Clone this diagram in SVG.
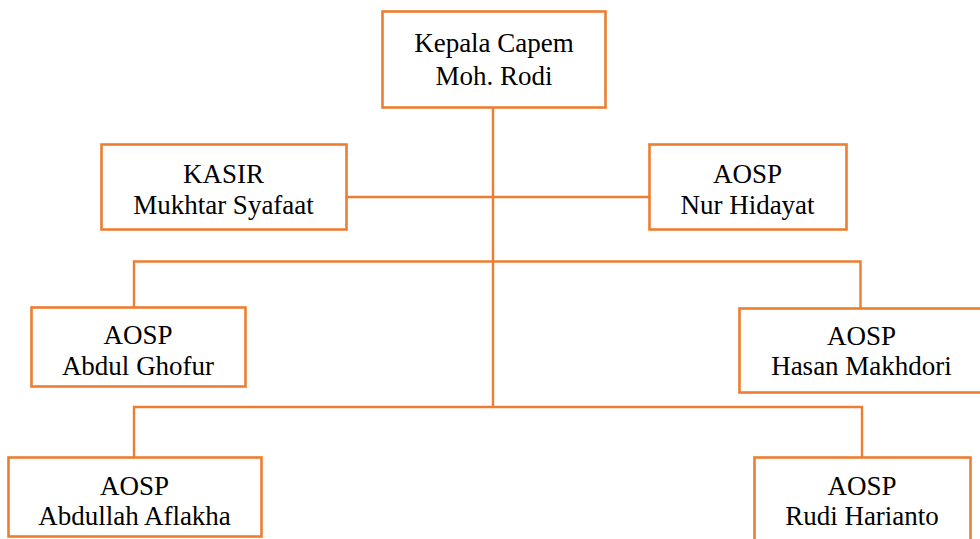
<svg xmlns="http://www.w3.org/2000/svg" width="980" height="539" viewBox="0 0 980 539">
<style>
.box{fill:#fff;stroke:#ED7D31;stroke-width:2.6}
.ln{fill:none;stroke:#ED7D31;stroke-width:2.4}
.t{font-family:'Liberation Serif','DejaVu Serif',serif;font-size:27px;fill:#000;text-anchor:middle}
</style>
<rect width="980" height="539" fill="#fff"/>
<g id="connectors">
<path class="ln" d="M493 107V407"/>
<path class="ln" d="M346 197H649"/>
<path class="ln" d="M134 307V261.5H860.5V308"/>
<path class="ln" d="M134 457V407H862V457"/>
</g>
<g id="kepala">
<rect class="box" x="382.5" y="11.5" width="223" height="96"/>
<text class="t" font-family="Liberation Serif" x="494" y="52">Kepala Capem</text>
<text class="t" font-family="Liberation Serif" x="494" y="85">Moh. Rodi</text>
</g>
<g id="kasir">
<rect class="box" x="101.5" y="144.5" width="245" height="85"/>
<text class="t" font-family="Liberation Serif" x="223.5" y="183">KASIR</text>
<text class="t" font-family="Liberation Serif" x="223.5" y="214">Mukhtar Syafaat</text>
</g>
<g id="nur">
<rect class="box" x="649.5" y="144.5" width="197" height="85"/>
<text class="t" font-family="Liberation Serif" x="747.5" y="183">AOSP</text>
<text class="t" font-family="Liberation Serif" x="747.5" y="214">Nur Hidayat</text>
</g>
<g id="abdul">
<rect class="box" x="31.5" y="307.5" width="214" height="79"/>
<text class="t" font-family="Liberation Serif" x="138" y="344">AOSP</text>
<text class="t" font-family="Liberation Serif" x="138" y="375">Abdul Ghofur</text>
</g>
<g id="hasan">
<rect class="box" x="739.5" y="308.5" width="244" height="84"/>
<text class="t" font-family="Liberation Serif" x="861.5" y="345">AOSP</text>
<text class="t" font-family="Liberation Serif" x="861.5" y="375">Hasan Makhdori</text>
</g>
<g id="abdullah">
<rect class="box" x="8.5" y="457.5" width="253" height="79"/>
<text class="t" font-family="Liberation Serif" x="134.5" y="495">AOSP</text>
<text class="t" font-family="Liberation Serif" x="134.5" y="525">Abdullah Aflakha</text>
</g>
<g id="rudi">
<rect class="box" x="754.5" y="457.5" width="216" height="90"/>
<text class="t" font-family="Liberation Serif" x="862" y="495">AOSP</text>
<text class="t" font-family="Liberation Serif" x="862" y="525">Rudi Harianto</text>
</g>
</svg>
